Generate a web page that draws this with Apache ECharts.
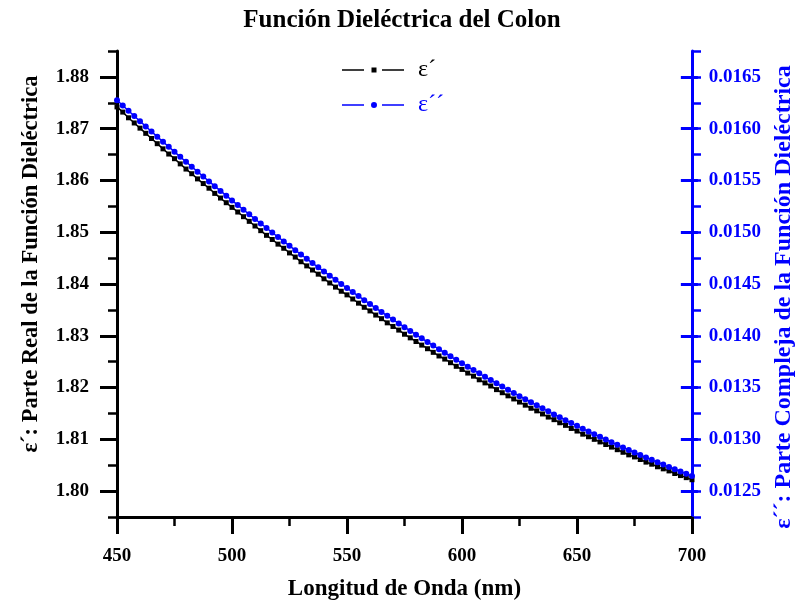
<!DOCTYPE html>
<html>
<head>
<meta charset="utf-8">
<script src="https://cdn.jsdelivr.net/npm/echarts@6/dist/echarts.min.js"></script>
<style>
html,body{margin:0;padding:0;background:#fff;}
#chart{width:804px;height:609px;}
</style>
</head>
<body>
<div id="chart"></div>
<script>
// Wavelength (nm)
var wavelengths = [450,452.5,455,457.5,460,462.5,465,467.5,470,472.5,475,477.5,480,482.5,485,487.5,490,492.5,495,497.5,
500,502.5,505,507.5,510,512.5,515,517.5,520,522.5,525,527.5,530,532.5,535,537.5,540,542.5,545,547.5,
550,552.5,555,557.5,560,562.5,565,567.5,570,572.5,575,577.5,580,582.5,585,587.5,590,592.5,595,597.5,
600,602.5,605,607.5,610,612.5,615,617.5,620,622.5,625,627.5,630,632.5,635,637.5,640,642.5,645,647.5,
650,652.5,655,657.5,660,662.5,665,667.5,670,672.5,675,677.5,680,682.5,685,687.5,690,692.5,695,697.5,700];

// ε´ : real part (left axis)
var epsReal = [1.8742,1.8732,1.8721,1.8711,1.8701,1.8691,1.8681,1.8671,1.8661,1.8651,
1.8642,1.8632,1.8622,1.8613,1.8603,1.8594,1.8585,1.8575,1.8566,1.8557,
1.8548,1.8539,1.8530,1.8521,1.8512,1.8503,1.8494,1.8486,1.8477,1.8469,
1.8460,1.8452,1.8443,1.8435,1.8427,1.8419,1.8410,1.8402,1.8394,1.8386,
1.8379,1.8371,1.8363,1.8355,1.8348,1.8340,1.8333,1.8325,1.8318,1.8311,
1.8303,1.8296,1.8289,1.8282,1.8275,1.8268,1.8261,1.8255,1.8248,1.8241,
1.8235,1.8228,1.8222,1.8215,1.8209,1.8203,1.8196,1.8190,1.8184,1.8178,
1.8172,1.8166,1.8160,1.8155,1.8149,1.8143,1.8138,1.8132,1.8127,1.8121,
1.8116,1.8110,1.8105,1.8100,1.8095,1.8090,1.8085,1.8080,1.8075,1.8070,
1.8066,1.8061,1.8056,1.8052,1.8047,1.8043,1.8039,1.8034,1.8030,1.8026,1.8022];

// ε´´ : imaginary part (right axis)
var epsImag = [0.016275,0.016224,0.016173,0.016122,0.016072,0.016022,0.015972,0.015923,0.015873,0.015825,
0.015776,0.015728,0.015680,0.015632,0.015585,0.015538,0.015491,0.015445,0.015399,0.015353,
0.015307,0.015262,0.015217,0.015173,0.015128,0.015084,0.015041,0.014997,0.014954,0.014911,
0.014869,0.014827,0.014785,0.014743,0.014702,0.014661,0.014620,0.014580,0.014540,0.014500,
0.014461,0.014422,0.014383,0.014344,0.014306,0.014268,0.014230,0.014193,0.014156,0.014119,
0.014083,0.014047,0.014011,0.013975,0.013940,0.013905,0.013870,0.013836,0.013802,0.013768,
0.013735,0.013702,0.013669,0.013637,0.013604,0.013572,0.013541,0.013509,0.013478,0.013448,
0.013417,0.013387,0.013358,0.013328,0.013299,0.013270,0.013241,0.013213,0.013185,0.013157,
0.013130,0.013103,0.013076,0.013050,0.013024,0.012998,0.012972,0.012947,0.012922,0.012897,
0.012873,0.012849,0.012825,0.012802,0.012779,0.012756,0.012733,0.012711,0.012689,0.012667,0.012646];

var xTicks = [450,500,550,600,650,700];
var leftTicks = [1.80,1.81,1.82,1.83,1.84,1.85,1.86,1.87,1.88];
var rightTicks = [0.0125,0.0130,0.0135,0.0140,0.0145,0.0150,0.0155,0.0160,0.0165];

var FONT = '"Liberation Serif","Times New Roman",serif';
var BLUE = '#0000ff';

var realData = wavelengths.map(function(w,i){return [w, epsReal[i]];});
var imagData = wavelengths.map(function(w,i){return [w, epsImag[i]];});

var chart = echarts.init(document.getElementById('chart'), null, {renderer:'canvas'});
var GL = 117, GR = 112, GT = 51, GB = 92;
var H = 609 - GT - GB;
var off = H / 18;

// legend icons: line - gap - marker - gap - line
var iconSquare = 'path://M0,2.3h22v1.6H0z M29.5,0.6h5v5h-5z M40,2.3h22v1.6H40z';
var iconCircle = 'path://M0,2.3h22v1.6H0z M35,3.1A3,3 0 1,1 29,3.1A3,3 0 1,1 35,3.1z M40,2.3h22v1.6H40z';

chart.setOption({
  animation:false,
  backgroundColor:'#fff',
  title:{
    text:'Función Dieléctrica del Colon',
    left:'center', top:3,
    textStyle:{fontFamily:FONT,fontWeight:'bold',fontSize:25,color:'#000'}
  },
  legend:{
    orient:'vertical', left:337, top:53, itemWidth:62, itemHeight:6, itemGap:11,
    textStyle:{fontFamily:FONT,fontSize:24,padding:[0,0,0,9]},
    data:[
      {name:'ε´', icon:iconSquare, textStyle:{color:'#000'}},
      {name:'ε´´', icon:iconCircle, textStyle:{color:BLUE}}
    ]
  },
  grid:[
    {left:GL,right:GR,top:GT,bottom:GB},
    {left:GL,right:GR,top:GT+off,bottom:GB+off}
  ],
  xAxis:[
    {
      type:'value', gridIndex:0, min:xTicks[0], max:xTicks[xTicks.length-1], interval:50,
      name:'Longitud de Onda (nm)', nameLocation:'middle', nameGap:61,
      nameTextStyle:{fontFamily:FONT,fontWeight:'bold',fontSize:23,color:'#000'},
      axisLine:{show:true,onZero:false,lineStyle:{color:'#000',width:3}},
      axisTick:{show:true,length:17,lineStyle:{color:'#000',width:3}},
      minorTick:{show:true,splitNumber:2,length:9,lineStyle:{color:'#000',width:2.5}},
      axisLabel:{margin:30,fontFamily:FONT,fontWeight:'bold',fontSize:19,color:'#000'},
      splitLine:{show:false}
    },
    {type:'value', gridIndex:1, min:xTicks[0], max:xTicks[xTicks.length-1], show:false}
  ],
  yAxis:[
    {
      type:'value', gridIndex:0, position:'left', min:1.795, max:1.885, interval:0.005,
      axisLine:{show:true,onZero:false,lineStyle:{color:'#000',width:3}},
      axisTick:{show:true,length:9,lineStyle:{color:'#000',width:2.5}},
      axisLabel:{show:false}, splitLine:{show:false}
    },
    {
      type:'value', gridIndex:0, position:'right', min:0.01225, max:0.01675, interval:0.00025,
      axisLine:{show:true,onZero:false,lineStyle:{color:BLUE,width:3}},
      axisTick:{show:true,length:9,lineStyle:{color:BLUE,width:2.5}},
      axisLabel:{show:false}, splitLine:{show:false}
    },
    {
      type:'value', gridIndex:1, position:'left', min:leftTicks[0], max:leftTicks[leftTicks.length-1], interval:0.01,
      name:'ε´: Parte Real de la Función Dieléctrica', nameLocation:'middle', nameGap:74,
      nameTextStyle:{fontFamily:FONT,fontWeight:'bold',fontSize:22.5,color:'#000',padding:[0,0,0,40]},
      axisLine:{show:false,onZero:false},
      axisTick:{show:true,length:17,lineStyle:{color:'#000',width:3}},
      axisLabel:{margin:28,fontFamily:FONT,fontWeight:'bold',fontSize:19,color:'#000',
        formatter:function(v){return v.toFixed(2);}},
      splitLine:{show:false}
    },
    {
      type:'value', gridIndex:1, position:'right', min:rightTicks[0], max:rightTicks[rightTicks.length-1], interval:0.0005,
      name:'ε´´: Parte Compleja de la Función Dieléctrica', nameLocation:'middle', nameGap:86,
      nameTextStyle:{fontFamily:FONT,fontWeight:'bold',fontSize:24,color:BLUE,padding:[0,26,0,0]},
      axisLine:{show:false,onZero:false},
      axisTick:{show:true,length:17,lineStyle:{color:BLUE,width:3}},
      axisLabel:{margin:28,fontFamily:FONT,fontWeight:'bold',fontSize:19,color:BLUE,
        formatter:function(v){return v.toFixed(4);}},
      splitLine:{show:false}
    }
  ],
  series:[
    {
      name:'ε´', type:'line', xAxisIndex:0, yAxisIndex:0, data:realData,
      symbol:'rect', symbolSize:5, showAllSymbol:true,
      lineStyle:{color:'#000',width:1.5}, itemStyle:{color:'#000'}
    },
    {
      name:'ε´´', type:'line', xAxisIndex:0, yAxisIndex:1, data:imagData,
      symbol:'circle', symbolSize:6, showAllSymbol:true,
      lineStyle:{color:BLUE,width:1.5}, itemStyle:{color:BLUE}
    }
  ]
});
</script>
</body>
</html>
